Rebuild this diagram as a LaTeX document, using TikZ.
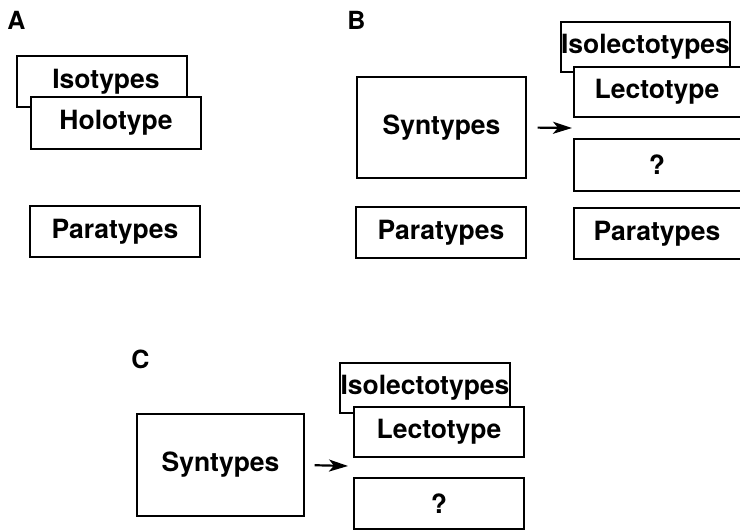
\documentclass[tikz,border=0pt]{standalone}
\usepackage{fontspec}
\setmainfont{TeX Gyre Heros}
\usetikzlibrary{arrows.meta}
\begin{document}
\begin{tikzpicture}[x=1pt,y=-1pt,
    box/.style={draw,line width=1.1pt,fill=white,inner sep=0pt,minimum width=170pt,minimum height=51pt,
        font=\fontsize{26.5}{30}\selectfont\bfseries},
    tall/.style={box,minimum height=101pt},
    panel/.style={font=\fontsize{25}{28}\selectfont\bfseries},
    arr/.style={line width=2.2pt,-{Stealth[length=19pt,width=12pt,inset=5pt]}}]
        \useasboundingbox (0,0) rectangle (740,530);
        % A
        \node[panel] (labA) at (16.5,20.5) {A};
        \node[box] (isoA) at (102,81.5) {\hspace*{8pt}Isotypes};
        \node[box,minimum height=52pt] (holoA) at (116,123) {Holotype};
        \node[box] (paraA) at (115,231.5) {Paratypes};
        % B
        \node[panel] (labB) at (356.5,20) {B};
        \node[tall,minimum width=169pt] (synB) at (441.5,127.5) {Syntypes};
        \node[box] (paraB) at (441,232.5) {Paratypes};
        \node[box,minimum width=169pt,minimum height=50pt] (isolB) at (645.5,47) {Isolectotypes};
        \node[box,minimum height=50pt] (lectB) at (659,92) {\hspace*{-4pt}Lectotype};
        \node[box,minimum height=52pt] (queB) at (659,165) {\hspace*{-4pt}?};
        \node[box] (paraB2) at (659,233.5) {\hspace*{-4pt}Paratypes};
        \coordinate (tipB) at (572,128);
        \draw[arr,shorten <=11pt] (synB.east) -- (tipB);
        % C
        \node[panel] (labC) at (140.5,359.5) {C};
        \node[tall,minimum width=167pt,minimum height=102pt] (synC) at (220.5,465) {Syntypes};
        \node[box,minimum height=50pt] (isolC) at (425,388) {Isolectotypes};
        \node[box,minimum height=50pt] (lectC) at (439,432) {Lectotype};
        \node[box] (queC) at (439,503.5) {?};
        \coordinate (tipC) at (348,466);
        \draw[arr,shorten <=10pt] (synC.east) -- (tipC);
    \end{tikzpicture}
\end{document}
